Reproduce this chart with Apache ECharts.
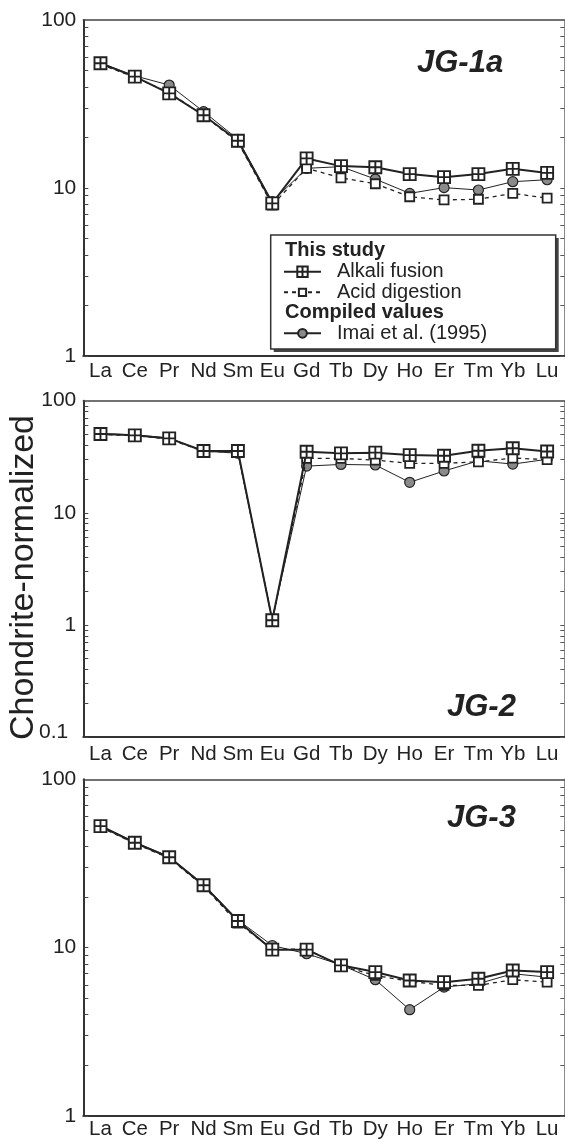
<!DOCTYPE html>
<html>
<head>
<meta charset="utf-8">
<title>Chondrite-normalized REE patterns</title>
<script src="https://cdn.jsdelivr.net/npm/echarts@6/dist/echarts.min.js"></script>
<style>
  html, body { margin: 0; padding: 0; background: #fff; }
  #chart { width: 565px; height: 1140px; }
</style>
</head>
<body>
<div id="chart"></div>
<script>
  // REE order on the x axis
  var elements = ['La', 'Ce', 'Pr', 'Nd', 'Sm', 'Eu', 'Gd', 'Tb', 'Dy', 'Ho', 'Er', 'Tm', 'Yb', 'Lu'];

  var sampleNames = ['JG-1a', 'JG-2', 'JG-3'];
  var seriesNames = ['Alkali fusion', 'Acid digestion', 'Imai et al. (1995)'];
  var legendHeaders = ['This study', 'Compiled values'];
  var yAxisTitle = 'Chondrite-normalized';

  // JG-1a
  var jg1aAlkali = [55.3, 46.0, 36.6, 27.1, 19.1, 8.1, 15.0, 13.5, 13.3, 12.1, 11.6, 12.1, 13.0, 12.3];
  var jg1aAcid   = [54.5, 45.6, 37.0, 27.0, 18.8, 7.9, 13.1, 11.5, 10.6, 8.87, 8.49, 8.57, 9.29, 8.7];
  var jg1aImai   = [55.5, 46.5, 41.0, 28.5, 19.5, 8.3, 13.1, 13.4, 11.3, 9.29, 10.05, 9.73, 10.9, 11.2];

  // JG-2
  var jg2Alkali = [50.4, 49.1, 46.1, 35.6, 35.6, 1.1, 35.0, 33.9, 34.4, 32.7, 32.3, 35.8, 37.6, 35.2];
  var jg2Acid   = [50.0, 48.8, 45.5, 35.3, 34.8, 1.1, 30.6, 30.6, 29.5, 27.6, 27.6, 28.5, 30.8, 29.8];
  var jg2Imai   = [51.0, 49.5, 46.5, 35.5, 34.0, 1.12, 26.1, 27.0, 26.7, 18.7, 23.6, 29.1, 27.2, 30.0];

  // JG-3
  var jg3Alkali = [52.7, 42.0, 34.4, 23.5, 14.4, 9.73, 9.73, 7.85, 7.16, 6.38, 6.24, 6.54, 7.32, 7.16];
  var jg3Acid   = [52.0, 41.5, 34.0, 23.2, 14.0, 9.8, 9.8, 7.8, 6.84, 6.3, 5.97, 5.97, 6.45, 6.24];
  var jg3Imai   = [53.3, 42.3, 34.8, 23.8, 14.6, 10.3, 9.2, 7.9, 6.45, 4.28, 5.83, 6.11, 7.0, 6.68];

  var panelData = [
    [jg1aAlkali, jg1aAcid, jg1aImai],
    [jg2Alkali, jg2Acid, jg2Imai],
    [jg3Alkali, jg3Acid, jg3Imai]
  ];

  // y range per panel and the minor tick multipliers of each decade
  var yMins = [1, 0.1, 1];
  var yMax = 100;
  var tickMultipliers = [1, 2, 3, 4, 5, 6, 7, 8, 9];

  var FONT = '"Liberation Sans", Arial, Helvetica, sans-serif';
  var INK = '#222';
  var panelTops = [20, 400.7, 779.3];
  var panelHeights = [336, 336.3, 336.7];
  var labelMargins = [5, 7, 3];
  var plotLeft = 83.3, plotWidth = 481;

  var crossSquare = 'path://M0,0H10V10H0Z M5,0V10 M0,5H10';

  var seriesStyles = [
    {
      symbol: crossSquare, symbolSize: 12, z: 5,
      itemStyle: { color: '#fff', borderColor: INK, borderWidth: 1.9 },
      lineStyle: { color: INK, width: 2 }
    },
    {
      symbol: 'rect', symbolSize: 9, z: 4,
      itemStyle: { color: '#fff', borderColor: INK, borderWidth: 1.8 },
      lineStyle: { color: INK, width: 1.3, type: [4, 4] }
    },
    {
      symbol: 'circle', symbolSize: 10, z: 3,
      itemStyle: { color: '#8a8a8a', borderColor: INK, borderWidth: 1.2 },
      lineStyle: { color: INK, width: 1 }
    }
  ];

  function decadeTicks(min) {
    var out = [];
    for (var d = Math.round(Math.log10(min)); d < Math.log10(yMax); d++) {
      tickMultipliers.forEach(function(m) {
        out.push(Math.log10(m * Math.pow(10, d)));
      });
    }
    return out;
  }

  var grids = [], xAxes = [], yAxes = [], series = [], titles = [];

  sampleNames.forEach(function(sample, i) {
    var logMin = Math.log10(yMins[i]);
    var logMax = Math.log10(yMax);
    var ticks = decadeTicks(yMins[i]);

    grids.push({
      left: plotLeft, top: panelTops[i], width: plotWidth, height: panelHeights[i],
      containLabel: false, outerBoundsMode: 'none'
    });

    // bottom axis with element labels
    xAxes.push({
      gridIndex: i, type: 'category', data: elements, boundaryGap: true, position: 'bottom',
      axisLine: { onZero: false, lineStyle: { color: '#333', width: 2 } },
      axisTick: { inside: true, alignWithLabel: true, length: 4, lineStyle: { color: '#444', width: 1 } },
      axisLabel: { interval: 0, color: INK, fontSize: 20.5, fontFamily: FONT, margin: labelMargins[i] },
      splitLine: { show: false }
    });
    // top frame with ticks
    xAxes.push({
      gridIndex: i, type: 'category', data: elements, boundaryGap: true, position: 'top',
      axisLine: { onZero: false, lineStyle: { color: '#444', width: 1.5 } },
      axisTick: { inside: true, alignWithLabel: true, length: 5, lineStyle: { color: '#444', width: 1 } },
      axisLabel: { show: false },
      splitLine: { show: false }
    });

    // data axis
    yAxes.push({
      gridIndex: i, type: 'log', logBase: 10, min: yMins[i], max: yMax, interval: 1, position: 'left',
      axisLine: { show: true, onZero: false, lineStyle: { color: '#333', width: 2 } },
      axisTick: { show: false },
      axisLabel: {
        color: INK, fontSize: 21, fontFamily: FONT, margin: 7,
        formatter: function(v) { return v < 0.5 ? '{lo|' + v + '}' : String(v); },
        rich: { lo: { color: INK, fontSize: 21, fontFamily: FONT, padding: [0, 8, 10, 0] } }
      },
      splitLine: { show: false }
    });
    // left minor ticks
    yAxes.push({
      gridIndex: i, type: 'value', min: logMin, max: logMax, position: 'left',
      axisLine: { show: false, onZero: false },
      axisTick: { show: true, inside: true, length: 5, customValues: ticks, lineStyle: { color: '#444', width: 1 } },
      axisLabel: { show: false },
      splitLine: { show: false }
    });
    // right frame with minor ticks
    yAxes.push({
      gridIndex: i, type: 'value', min: logMin, max: logMax, position: 'right',
      axisLine: { show: true, onZero: false, lineStyle: { color: '#666', width: 1.5 } },
      axisTick: { show: true, inside: true, length: 4, customValues: ticks, lineStyle: { color: '#555', width: 1 } },
      axisLabel: { show: false },
      splitLine: { show: false }
    });

    // draw Imai first, then acid, then alkali on top
    [2, 1, 0].forEach(function(k) {
      var st = seriesStyles[k];
      series.push({
        name: seriesNames[k], type: 'line',
        xAxisIndex: i * 2, yAxisIndex: i * 3,
        data: panelData[i][k],
        symbol: st.symbol, symbolSize: st.symbolSize, showAllSymbol: true,
        itemStyle: st.itemStyle, lineStyle: st.lineStyle, z: st.z,
        silent: true, animation: false
      });
    });
  });

  titles = [
    { text: sampleNames[0], left: 417, top: 63 - 15.5 },
    { text: sampleNames[1], left: 447, top: 707.3 - 15.5 },
    { text: sampleNames[2], left: 447, top: 818.3 - 15.5 }
  ].map(function(t) {
    t.padding = 0;
    t.textStyle = { fontSize: 31, lineHeight: 31, fontStyle: 'italic', fontWeight: 'bold', color: INK, fontFamily: FONT };
    return t;
  });

  function legendRow(name, centerY, itemHeight) {
    return {
      data: [name], left: 283, top: centerY - 10.5, orient: 'horizontal',
      padding: 0, itemGap: 0, itemWidth: 37, itemHeight: itemHeight, selectedMode: false, z: 20,
      textStyle: { fontSize: 20, lineHeight: 21, color: INK, fontFamily: FONT, padding: [0, 0, 0, 11] }
    };
  }

  var option = {
    backgroundColor: '#fff',
    animation: false,
    title: titles,
    grid: grids,
    xAxis: xAxes,
    yAxis: yAxes,
    series: series,
    legend: [
      legendRow(seriesNames[0], 271.7, 13),
      legendRow(seriesNames[1], 292.3, 9),
      legendRow(seriesNames[2], 333.3, 11)
    ],
    graphic: [
      { type: 'rect', z: 10, shape: { x: 273.7, y: 238, width: 285, height: 114 }, style: { fill: '#444' } },
      { type: 'rect', z: 11, shape: { x: 270.7, y: 235, width: 285, height: 114 }, style: { fill: '#fff', stroke: '#333', lineWidth: 1.5 } },
      { type: 'text', z: 12, x: 285, y: 250.7, style: { text: legendHeaders[0], font: 'bold 20px ' + FONT, fill: INK, verticalAlign: 'middle' } },
      { type: 'text', z: 12, x: 285, y: 312.7, style: { text: legendHeaders[1], font: 'bold 20px ' + FONT, fill: INK, verticalAlign: 'middle' } },
      { type: 'text', z: 12, x: 24, y: 577.5, rotation: Math.PI / 2,
        style: { text: yAxisTitle, font: '34px ' + FONT, fill: INK, align: 'center', verticalAlign: 'middle' } }
    ]
  };

  var chart = echarts.init(document.getElementById('chart'));
  chart.setOption(option);
</script>
</body>
</html>
